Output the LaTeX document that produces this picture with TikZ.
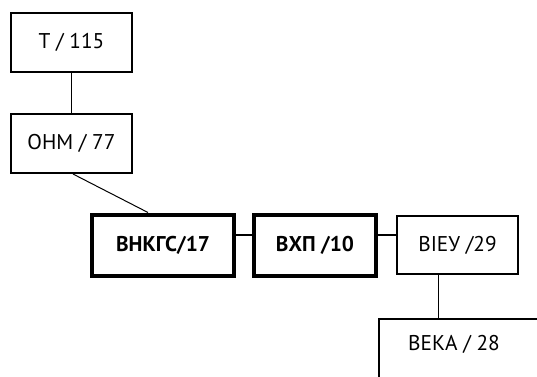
\documentclass[tikz,border=0pt]{standalone}
\usepackage{fontspec}
\setmainfont{PT Sans}
\begin{document}
\begin{tikzpicture}[x=0.75pt,y=-0.75pt,
  thinbox/.style={draw, line width=1.5pt, rectangle, inner sep=0pt, font=\fontsize{16}{19}\selectfont},
  thickbox/.style={draw, line width=3pt, rectangle, inner sep=0pt, font=\fontsize{16}{19}\selectfont\bfseries},
  thinline/.style={line width=0.75pt},
  midline/.style={line width=1.5pt}]
\useasboundingbox (0,0) rectangle (537,376);
\begin{scope}
\clip (0,0) rectangle (537,376);
\node[thinbox, minimum width=121*0.75pt, minimum height=59*0.75pt] (t) at (71.5,42.5) {T / 115};
\node[thinbox, minimum width=121*0.75pt, minimum height=59*0.75pt] (o) at (71.5,143.5) {OHM / 77};
\node[thickbox, minimum width=142*0.75pt, minimum height=61*0.75pt] (a) at (163,245) {ВНКГС/17};
\node[thickbox, minimum width=122*0.75pt, minimum height=61*0.75pt] (b) at (315,245) {ВХП /10};
\node[thinbox, minimum width=121*0.75pt, minimum height=58*0.75pt] (c) at (457.5,245) {ВІЕУ /29};
\node[thinbox, minimum width=200*0.75pt, minimum height=100*0.75pt, anchor=north west] (d) at (378,318) {};
\node[font=\fontsize{16}{19}\selectfont, inner sep=0pt] (dt) at (454,344) {ВЕКА / 28};
\draw[thinline] (t.south) -- (o.north);
\draw[thinline] (73,0 |- o.south) -- (148,0 |- a.north);
\draw[midline] (a.east |- 0,235) -- (b.west |- 0,235);
\draw[midline] (b.east |- 0,235) -- (c.west |- 0,235);
\draw[thinline] (438,0 |- c.south) -- (438,0 |- d.north);
\end{scope}
\end{tikzpicture}
\end{document}
